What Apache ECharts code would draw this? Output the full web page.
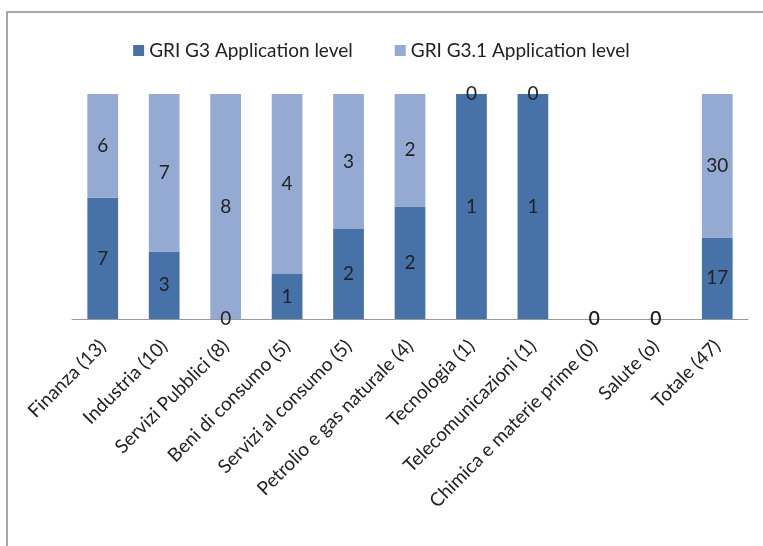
<!DOCTYPE html>
<html><head><meta charset="utf-8">
<script src="https://cdn.jsdelivr.net/npm/echarts@6/dist/echarts.min.js"></script>
<style>html,body{margin:0;padding:0;background:#fff}#c{width:763px;height:546px}</style>
</head><body><div id="c"></div>
<script>
var categories = ["Finanza (13)","Industria (10)","Servizi Pubblici (8)","Beni di consumo (5)","Servizi al consumo (5)","Petrolio e gas naturale (4)","Tecnologia (1)","Telecomunicazioni (1)","Chimica e materie prime (0)","Salute (o)","Totale (47)"];
var g3Values = [7,3,0,1,2,2,1,1,0,0,17];
var g31Values = [6,7,8,4,3,2,0,0,0,0,30];
var seriesNames = ["GRI G3 Application level","GRI G3.1 Application level"];

function pct(arr, i){ var t = g3Values[i] + g31Values[i]; return t ? arr[i] / t * 100 : 0; }
var g3Pct = g3Values.map(function(v,i){ return pct(g3Values,i); });
var g31Pct = g31Values.map(function(v,i){ return pct(g31Values,i); });

var FONT = 'Lato';
var chart = echarts.init(document.getElementById('c'));
function lbl(raw){
  return {show:true, position:'inside', color:'#222', fontFamily:FONT, fontSize:19,
    formatter:function(p){ return String(raw[p.dataIndex]); }};
}
chart.setOption({
  animation:false,
  graphic:[{type:'rect', shape:{x:7,y:12,width:800,height:600}, style:{fill:'none', stroke:'#8c8c8c', lineWidth:1.5}}],
  legend:{top:36, left:'center', itemWidth:11, itemHeight:11, itemGap:42, icon:'rect',
    textStyle:{fontFamily:FONT, fontSize:19, color:'#222'}, data:seriesNames},
  grid:{left:72, right:15, top:94, bottom:227, containLabel:false},
  xAxis:{type:'category', data:categories,
    axisLine:{lineStyle:{color:'#999'}}, axisTick:{show:false},
    axisLabel:{rotate:45, interval:0, fontFamily:FONT, fontSize:19, color:'#222', margin:24}},
  yAxis:{type:'value', min:0, max:100, show:false, splitLine:{show:false}},
  series:[
    {name:seriesNames[0], type:'bar', stack:'s', barWidth:'50%', data:g3Pct,
     itemStyle:{color:'#4672A8'}, label:lbl(g3Values)},
    {name:seriesNames[1], type:'bar', stack:'s', barWidth:'50%', data:g31Pct,
     itemStyle:{color:'#94AAD3'}, label:lbl(g31Values)}
  ]
});
</script></body></html>
